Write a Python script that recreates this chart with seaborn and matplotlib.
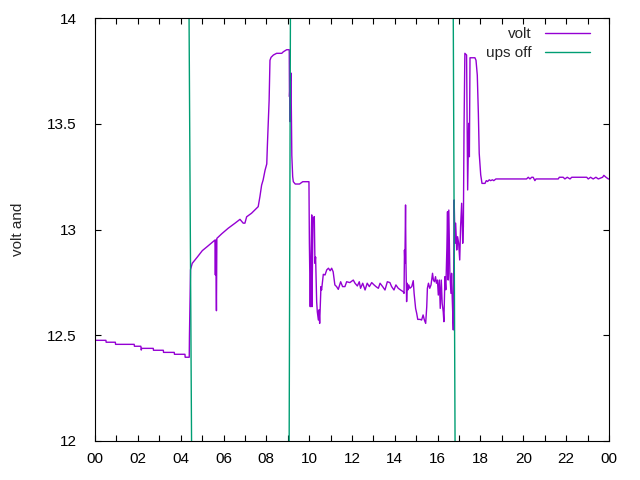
import numpy as np
import pandas as pd
import seaborn as sns
import matplotlib.pyplot as plt
from matplotlib.ticker import MultipleLocator, FuncFormatter

# battery voltage over one day (hours, volts)
volt_hours = [
    0.00, 0.51, 0.52, 0.95, 0.96, 1.83, 1.84, 2.14, 2.16, 2.18, 2.72, 2.73, 3.19, 3.20,
    3.70, 3.71, 4.20, 4.21, 4.40, 4.41, 4.44, 4.46,
    4.54, 4.78, 5.01, 5.25, 5.48, 5.60, 5.62, 5.64, 5.67, 5.69, 5.92, 6.22, 6.54, 6.77,
    6.92, 7.00, 7.08, 7.31, 7.62, 7.70, 7.78, 7.85, 7.94, 8.02, 8.05, 8.13, 8.17, 8.22,
    8.33, 8.48, 8.72, 8.79, 8.95, 9.07,
    9.08, 9.10, 9.11, 9.13, 9.15, 9.17, 9.19, 9.23, 9.26, 9.35, 9.55, 9.70, 9.99,
    10.01, 10.05, 10.08, 10.12, 10.13, 10.18, 10.24, 10.27, 10.30, 10.35, 10.38, 10.43,
    10.46, 10.49, 10.52, 10.55, 10.58, 10.66, 10.74, 10.82, 10.90, 10.98, 11.05, 11.12,
    11.20, 11.28, 11.36, 11.47, 11.56, 11.67, 11.75, 11.90, 12.06, 12.14, 12.25, 12.34,
    12.40, 12.50, 12.61, 12.71, 12.81, 12.92, 13.03, 13.12, 13.23, 13.31, 13.43, 13.54,
    13.65, 13.77, 13.85, 13.96, 14.05, 14.16, 14.27, 14.39,
    14.43, 14.45, 14.47, 14.50, 14.52, 14.55, 14.58, 14.62, 14.65, 14.70, 14.79, 14.86,
    14.90, 14.97, 15.02, 15.07, 15.18, 15.25, 15.32, 15.38, 15.44, 15.49, 15.52, 15.57,
    15.63, 15.69, 15.76, 15.80, 15.85, 15.90, 15.94, 15.99, 16.03, 16.08, 16.12, 16.17,
    16.21, 16.26, 16.29, 16.34, 16.38, 16.43, 16.46, 16.49, 16.52, 16.57, 16.62, 16.65,
    16.68, 16.73,
    16.77, 16.81, 16.84, 16.89, 16.93, 16.98, 17.03, 17.07, 17.12, 17.17, 17.20, 17.23,
    17.27, 17.35, 17.40, 17.45, 17.48, 17.51, 17.74, 17.79, 17.85, 17.90, 17.94, 18.01,
    18.07, 18.21, 18.27, 18.33, 18.41, 18.47, 18.56, 18.62, 18.72,
    20.15, 20.23, 20.31, 20.39, 20.46, 20.54, 20.59, 21.63, 21.68, 21.86, 21.94, 22.05,
    22.18, 22.26, 22.41, 22.96, 23.03, 23.14, 23.26, 23.39, 23.50, 23.70, 23.76, 23.86,
    23.97, 24.00,
]
volt_values = [
    12.476, 12.476, 12.467, 12.467, 12.457, 12.457, 12.448, 12.448, 12.430, 12.438, 12.438,
    12.429, 12.429, 12.419, 12.419, 12.410, 12.410, 12.396, 12.396, 12.497, 12.700, 12.810,
    12.840, 12.870, 12.900, 12.920, 12.940, 12.950, 12.785, 12.950, 12.616, 12.958, 12.980,
    13.006, 13.030, 13.048, 13.030, 13.030, 13.060, 13.077, 13.108, 13.155, 13.210, 13.234,
    13.280, 13.310, 13.400, 13.610, 13.800, 13.814, 13.825, 13.833, 13.833, 13.840, 13.850,
    13.850,
    13.628, 13.675, 13.510, 13.700, 13.740, 13.520, 13.350, 13.250, 13.226, 13.215, 13.215,
    13.226, 13.226,
    12.935, 12.635, 12.856, 13.069, 12.635, 13.053, 13.061, 12.840, 12.870, 12.659, 12.611,
    12.572, 12.620, 12.556, 12.640, 12.730, 12.714, 12.788, 12.785, 12.809, 12.817, 12.805,
    12.817, 12.800, 12.738, 12.730, 12.717, 12.753, 12.730, 12.730, 12.753, 12.749, 12.761,
    12.746, 12.733, 12.753, 12.722, 12.746, 12.714, 12.746, 12.730, 12.749, 12.738, 12.730,
    12.722, 12.746, 12.730, 12.714, 12.753, 12.749, 12.730, 12.714, 12.738, 12.722, 12.714,
    12.706,
    12.698, 12.903, 12.840, 13.116, 12.840, 12.659, 12.746, 12.715, 12.738, 12.722, 12.730,
    12.758, 12.698, 12.627, 12.604, 12.575, 12.575, 12.572, 12.596, 12.572, 12.556, 12.635,
    12.722, 12.746, 12.722, 12.738, 12.793, 12.761, 12.753, 12.777, 12.746, 12.761, 12.690,
    12.761, 12.627, 12.761, 12.651, 12.611, 12.564, 12.777, 12.715, 12.911, 13.084, 12.761,
    13.092, 12.793, 12.698, 12.793, 12.675, 12.525,
    13.140, 12.935, 13.030, 12.903, 12.966, 12.935, 12.856, 13.013, 13.124, 12.935, 13.013,
    13.470, 13.833, 13.825, 13.187, 13.502, 13.344, 13.812, 13.812, 13.800, 13.730, 13.549,
    13.360, 13.258, 13.218, 13.218, 13.231, 13.227, 13.235, 13.231, 13.235, 13.231, 13.239,
    13.239, 13.247, 13.239, 13.247, 13.247, 13.231, 13.239, 13.239, 13.247, 13.247, 13.239,
    13.247, 13.239, 13.247, 13.247, 13.247, 13.239, 13.247, 13.239, 13.247, 13.239, 13.247,
    13.256, 13.247, 13.239, 13.239,
]

# ups off state, drawn off-scale (above / below the y range)
ups_hours = [0.00, 4.38, 4.52, 9.06, 9.13, 16.72, 16.82, 24.00]
ups_values = [14.2, 14.2, 11.8, 11.8, 14.2, 14.2, 11.8, 11.8]

xtick_labels = ['00', '02', '04', '06', '08', '10', '12', '14', '16', '18', '20', '22', '00']

volt_df = pd.DataFrame({'hour': volt_hours, 'value': volt_values, 'series': 'volt'})
ups_df = pd.DataFrame({'hour': ups_hours, 'value': ups_values, 'series': 'ups off'})
df = pd.concat([volt_df, ups_df], ignore_index=True)

sns.set_style('ticks')
plt.rcParams['font.family'] = ['Liberation Sans', 'DejaVu Sans']
plt.rcParams['font.size'] = 11

fig = plt.figure(figsize=(6.4, 4.8), dpi=100)
ax = fig.add_axes([95 / 640, 1 - 441 / 480, 514 / 640, 423 / 480])

sns.lineplot(data=df, x='hour', y='value', hue='series', hue_order=['volt', 'ups off'],
             palette={'volt': '#9400d3', 'ups off': '#009e73'},
             estimator=None, sort=False, errorbar=None, linewidth=1.0, ax=ax)

ax.set_xlim(0, 24)
ax.set_ylim(12, 14)
ax.xaxis.set_major_locator(MultipleLocator(1))
ax.xaxis.set_major_formatter(FuncFormatter(
    lambda v, pos: xtick_labels[int(round(v)) // 2] if int(round(v)) % 2 == 0 else ''))
ax.yaxis.set_major_locator(MultipleLocator(0.5))
ax.yaxis.set_major_formatter(FuncFormatter(lambda v, pos: f'{v:g}'))
ax.tick_params(direction='in', length=4.5, width=0.8, top=True, right=True,
               labelsize=11, colors='black')
ax.tick_params(axis='y', pad=13)
ax.tick_params(axis='x', pad=8)
for side in ax.spines.values():
    side.set_visible(True)
    side.set_linewidth(0.8)
    side.set_color('black')

ax.set_xlabel('')
ax.set_ylabel('volt and', fontsize=11, labelpad=16)

leg = ax.legend(loc='upper right', bbox_to_anchor=(0.963, 0.978), frameon=False,
                markerfirst=False, handlelength=2.95, handletextpad=0.85,
                labelspacing=0.33, borderpad=0, borderaxespad=0, fontsize=11)

fig.savefig('out.png', dpi=100)
